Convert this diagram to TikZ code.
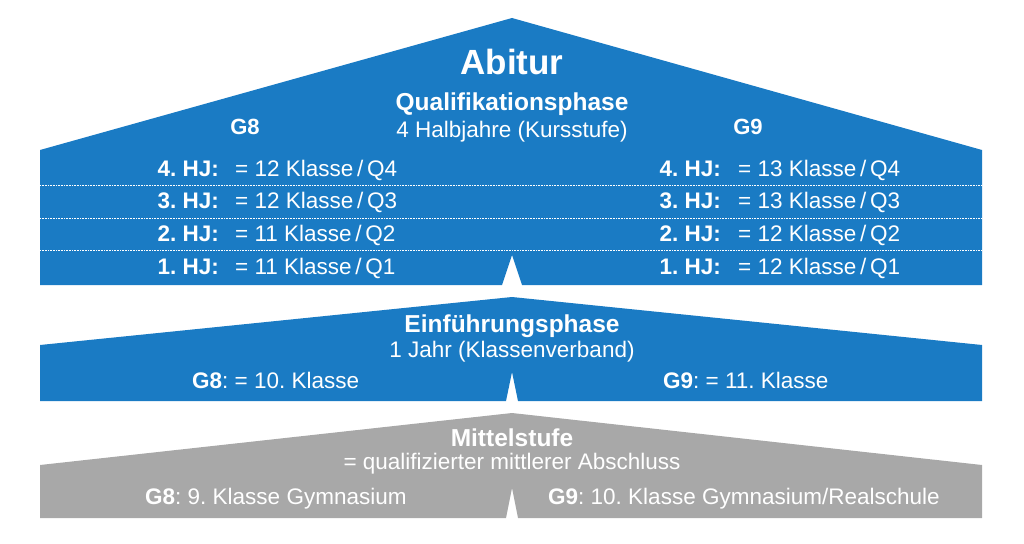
\documentclass[tikz,border=0pt]{standalone}
\usepackage{fontspec}
\setmainfont{Liberation Sans}
\frenchspacing
\definecolor{blu}{HTML}{1A7BC4}
\definecolor{gry}{HTML}{A8A8A8}
\begin{document}
\begin{tikzpicture}[x=1pt,y=-1pt,
  txt/.style={text=white,inner sep=0pt,font=\fontsize{22.5}{24}\selectfont},
  hd/.style={txt,font=\bfseries\fontsize{24.5}{26}\selectfont},
  sep/.style={white,densely dotted,line width=0.6pt}]
\useasboundingbox (0,0) rectangle (1024,543);
% top
\fill[blu] (40,150) -- (512,18) -- (982,150) -- (982,285) -- (522,285) -- (512,255) -- (502,285) -- (40,285) -- cycle;
\coordinate (l1) at (40,185); \coordinate (r1) at (982,185);
\coordinate (l2) at (40,218); \coordinate (r2) at (982,218);
\coordinate (l3) at (40,250); \coordinate (r3) at (982,250);
\draw[sep] (l1) -- (r1); \draw[sep] (l2) -- (r2); \draw[sep] (l3) -- (r3);
% middle
\fill[blu] (40,345) -- (512,297) -- (982,345) -- (982,401) -- (518,401) -- (512,372) -- (506,401) -- (40,401) -- cycle;
% bottom
\fill[gry] (40,465) -- (512,413) -- (982,465) -- (982,518) -- (518,518) -- (512,488) -- (506,518) -- (40,518) -- cycle;
% texts
\node[txt,font=\bfseries\fontsize{35}{37}\selectfont] (abi) at (512,62) {Abitur};
\node[hd] (qp) at (512,104) {Qualifikationsphase};
\node[txt] (qs) at (512,132) {4 Halbjahre (Kursstufe)};
\node[hd,font=\bfseries\fontsize{22}{24}\selectfont] (g8) at (245,127) {G8};
\node[hd,font=\bfseries\fontsize{22}{24}\selectfont] (g9) at (748,127) {G9};
\foreach \y/\h/\a/\b in {176/4/12/13,208/3/12/13,241/2/11/12,274/1/11/12}{
  \node[txt,anchor=base east] (lh\h) at (219,\y) {\textbf{\h. HJ:}};
  \node[txt,anchor=base west] (lk\h) at (235,\y) {= \a\ Klasse\,/\,Q\h};
  \node[txt,anchor=base east] (rh\h) at (721,\y) {\textbf{\h. HJ:}};
  \node[txt,anchor=base west] (rk\h) at (738,\y) {= \b\ Klasse\,/\,Q\h};
}
\node[hd] (ep) at (512,326) {Einführungsphase};
\node[txt] (es) at (512,352) {1 Jahr (Klassenverband)};
\node[txt,anchor=base west] (e8) at (192,388) {\textbf{G8}: = 10. Klasse};
\node[txt,anchor=base west] (e9) at (663,388) {\textbf{G9}: = 11. Klasse};
\node[hd] (ms) at (512,438) {Mittelstufe};
\node[txt] (mq) at (512,464) {= qualifizierter mittlerer Abschluss};
\node[txt,anchor=base west] (m8) at (145,504) {\textbf{G8}: 9. Klasse Gymnasium};
\node[txt,anchor=base west] (m9) at (548,504) {\textbf{G9}: 10. Klasse Gymnasium/Realschule};
\end{tikzpicture}
\end{document}
